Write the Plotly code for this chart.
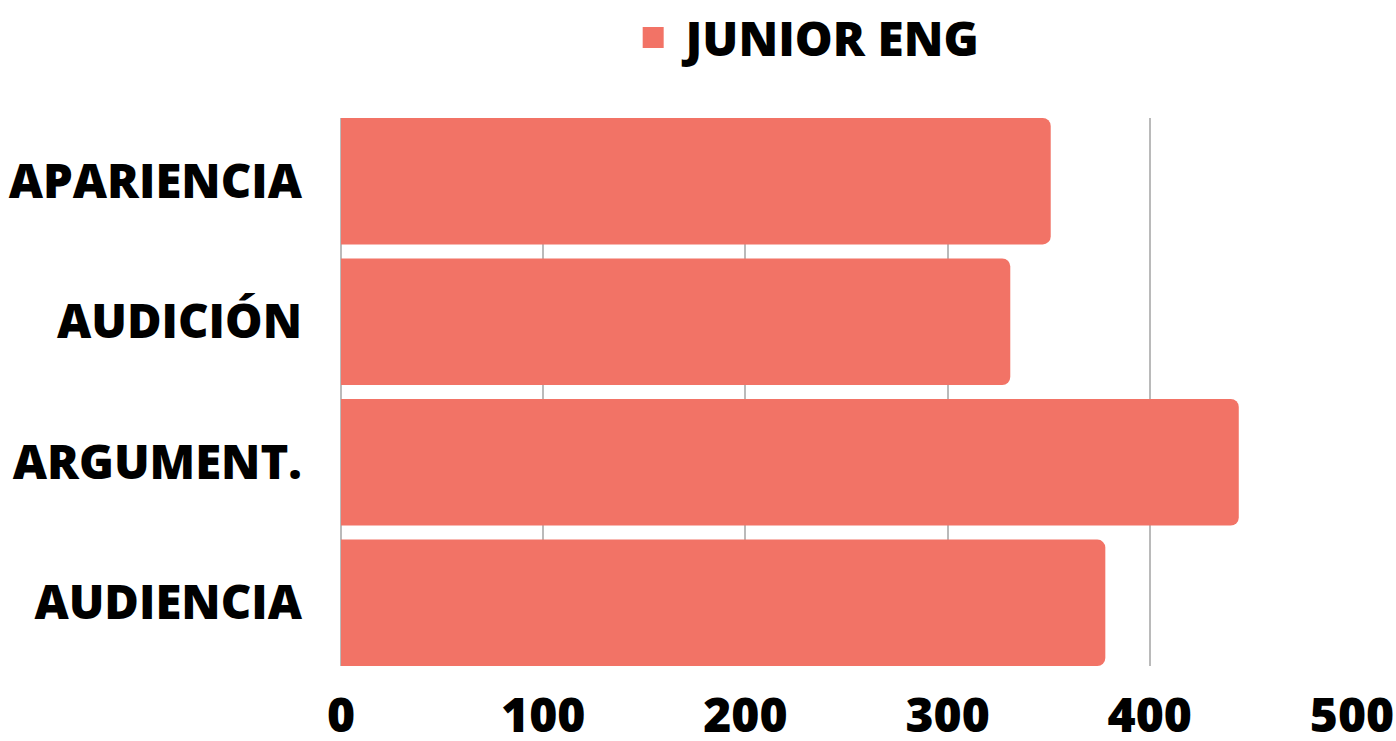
import plotly.graph_objects as go

categories = ["APARIENCIA", "AUDICIÓN", "ARGUMENT.", "AUDIENCIA"]
values = [351, 331, 444, 378]
series_name = "JUNIOR ENG"
x_ticks = [0, 100, 200, 300, 400, 500]

BAR = "#F27366"
FONT = dict(family="Open Sans", size=48, color="#000000", weight=800)
YFONT = dict(family="Open Sans", size=47.2, color="#000000", weight=800)

fig = go.Figure()
fig.add_trace(go.Bar(
    y=categories, x=values, orientation="h",
    marker=dict(color=BAR, line=dict(width=0)),
    name=series_name, showlegend=False,
))
# legend entry with a larger square symbol
fig.add_trace(go.Scatter(
    x=[None], y=[None], mode="markers", name="\u00a0" + series_name,
    marker=dict(symbol="square", size=22, color=BAR, line=dict(color=BAR, width=5)),
    showlegend=True,
))

fig.update_layout(
    width=1396, height=741,
    margin=dict(l=341, r=44, t=118, b=75, autoexpand=False),
    paper_bgcolor="white", plot_bgcolor="white",
    font=FONT,
    bargap=0.1,
    barcornerradius=8,
    legend=dict(orientation="h", x=0.289, xanchor="left", y=1.146, yanchor="middle",
                font=dict(FONT, size=47.7), itemsizing="trace", itemwidth=30),
    xaxis=dict(range=[0, 500], tickvals=x_ticks, ticktext=[str(v) for v in x_ticks],
               showgrid=True, gridcolor="#BABABA", gridwidth=1.5,
               zeroline=True, zerolinecolor="#BABABA", zerolinewidth=1.5,
               showline=False, ticks="", ticklabelstandoff=17, tickfont=FONT,
               automargin=False),
    yaxis=dict(range=[3.45, -0.45], showgrid=False, zeroline=False, showline=False,
               ticks="", ticklabelstandoff=38, tickfont=YFONT, automargin=False),
)

# remove the default 8px page margin so the figure fills the window exactly
fig.write_html(
    "out.html",
    config={"displayModeBar": False},
    post_script="document.body.style.margin='0';document.body.style.overflow='hidden';",
)
